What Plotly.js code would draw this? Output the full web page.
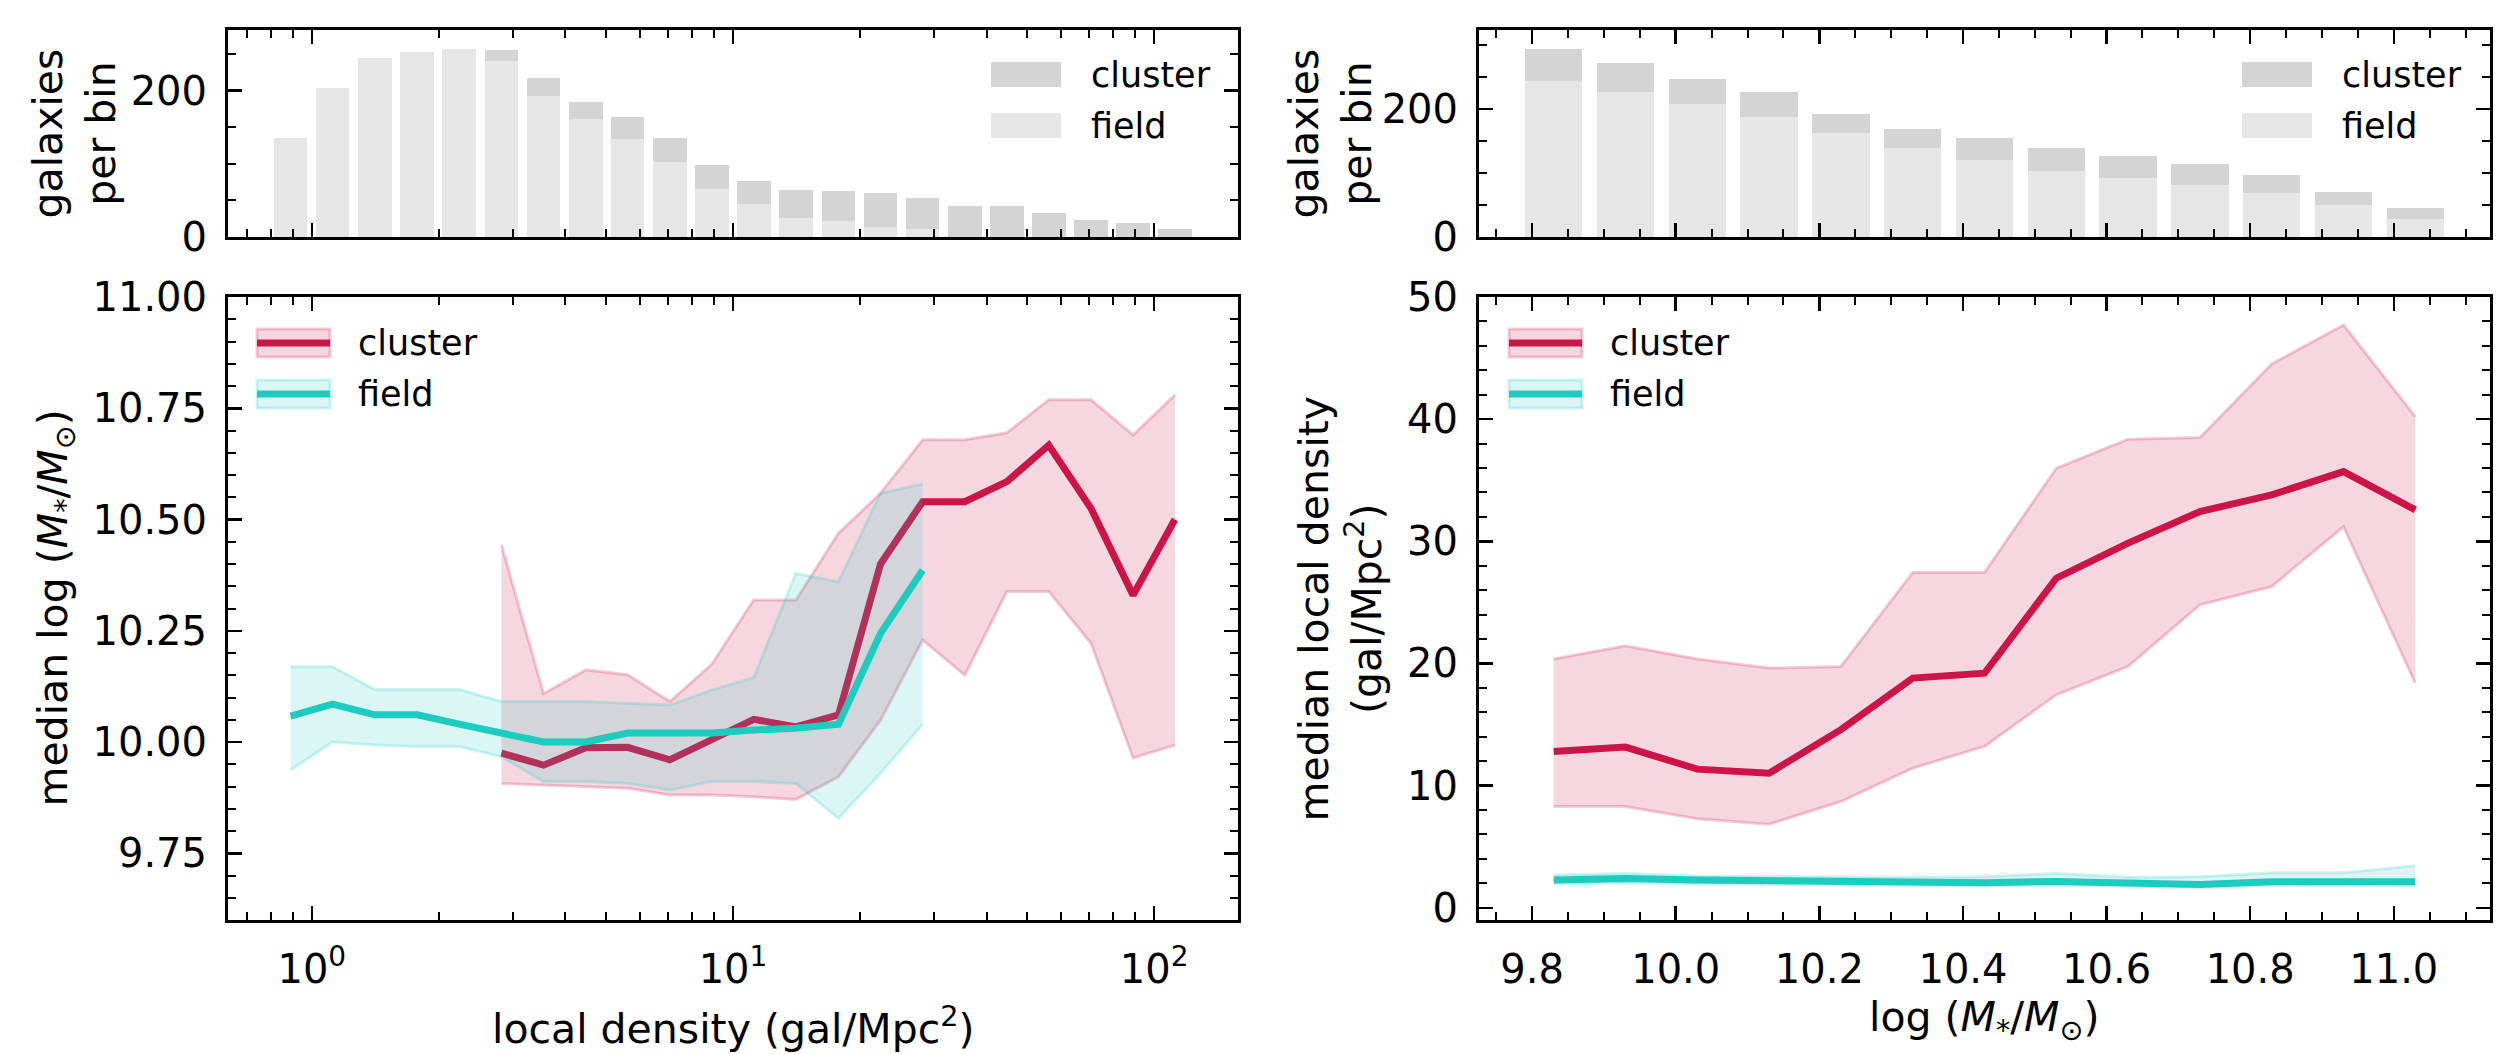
<!DOCTYPE html>
<html>
<head>
<meta charset="utf-8">
<script src="https://cdn.plot.ly/plotly-3.0.1.min.js"></script>
<style>
  html, body { margin: 0; padding: 0; background: #fff; }
  #chart { width: 2520px; height: 1054px; }
</style>
</head>
<body>
<div id="chart"></div>
<script>
// ---- local density bins (gal/Mpc^2) ----
const densityBins = [0.89, 1.12, 1.41, 1.78, 2.24, 2.82, 3.55, 4.47, 5.62, 7.08, 8.91,
                     11.2, 14.1, 17.8, 22.4, 28.2, 35.5, 44.7, 56.2, 70.8, 89.1, 112];
const densityFieldCounts   = [136, 204, 245, 253, 257, 240, 193, 161, 134, 102, 65, 45, 26, 22, 13, 11, 0, 0, 0, 0, 0, 0];
const densityClusterCounts = [0, 0, 0, 0, 0, 16, 24, 24, 30, 33, 34, 32, 38, 41, 47, 43, 42, 42, 33, 23, 19, 11];

// ---- stellar mass bins, log(M*/Msun) ----
const massBins = [9.83, 9.93, 10.03, 10.13, 10.23, 10.33, 10.43, 10.53, 10.63, 10.73, 10.83, 10.93, 11.03];
const massFieldCounts   = [244, 227, 207, 187, 162, 139, 120, 103, 92, 81, 69, 50, 28];
const massClusterCounts = [49, 45, 40, 39, 30, 30, 34, 36, 35, 33, 27, 21, 17];

// ---- median stellar mass vs local density ----
const fieldDensityX   = [0.89, 1.12, 1.41, 1.78, 2.24, 2.82, 3.55, 4.47, 5.62, 7.08, 8.91, 11.2, 14.1, 17.8, 22.4, 28.2];
const fieldMassMed    = [10.058, 10.085, 10.061, 10.061, 10.04, 10.02, 10.00, 10.00, 10.02, 10.02, 10.02, 10.027, 10.031, 10.04, 10.244, 10.386];
const fieldMassHi     = [10.169, 10.169, 10.118, 10.118, 10.118, 10.091, 10.091, 10.091, 10.087, 10.083, 10.117, 10.145, 10.379, 10.36, 10.559, 10.58];
const fieldMassLo     = [9.937, 10.0, 9.993, 9.99, 9.99, 9.967, 9.911, 9.911, 9.907, 9.892, 9.911, 9.911, 9.907, 9.829, 9.93, 10.04];

const clusterDensityX = [2.82, 3.55, 4.47, 5.62, 7.08, 8.91, 11.2, 14.1, 17.8, 22.4, 28.2, 35.5, 44.7, 56.2, 70.8, 89.1, 112];
const clusterMassMed  = [9.975, 9.948, 9.987, 9.988, 9.96, 10.004, 10.051, 10.034, 10.061, 10.40, 10.54, 10.54, 10.585, 10.667, 10.525, 10.33, 10.50];
const clusterMassHi   = [10.443, 10.109, 10.162, 10.151, 10.091, 10.175, 10.319, 10.319, 10.469, 10.559, 10.679, 10.679, 10.695, 10.769, 10.769, 10.69, 10.78];
const clusterMassLo   = [9.907, 9.903, 9.9, 9.896, 9.881, 9.881, 9.877, 9.871, 9.922, 10.049, 10.229, 10.15, 10.338, 10.338, 10.222, 9.964, 9.993];

// ---- median local density vs stellar mass ----
const clusterDensMed = [12.8, 13.16, 11.35, 11.02, 14.58, 18.8, 19.2, 26.98, 29.85, 32.44, 33.8, 35.71, 32.57];
const clusterDensHi  = [20.36, 21.45, 20.36, 19.62, 19.76, 27.45, 27.45, 35.98, 38.36, 38.49, 44.52, 47.71, 40.21];
const clusterDensLo  = [8.29, 8.29, 7.28, 6.84, 8.7, 11.43, 13.21, 17.44, 19.76, 24.8, 26.3, 31.2, 18.4];
const fieldDensMed   = [2.27, 2.4, 2.27, 2.18, 2.18, 2.05, 2.05, 2.16, 2.0, 1.91, 2.13, 2.13, 2.13];
const fieldDensHi    = [2.68, 2.81, 2.6, 2.55, 2.55, 2.5, 2.55, 2.81, 2.5, 2.55, 2.86, 2.86, 3.44];
const fieldDensLo    = [1.95, 2.05, 1.95, 1.9, 1.9, 1.8, 1.8, 1.85, 1.75, 1.7, 1.85, 1.85, 1.8];

// ---- tick labels ----
const densityTickVals  = [1, 10, 100];
const densityTickText  = ['10<sup>0</sup>', '10<sup>1</sup>', '10<sup>2</sup>'];
const densityMinorVals = [0.7, 0.8, 0.9, 2, 3, 4, 5, 6, 7, 8, 9, 20, 30, 40, 50, 60, 70, 80, 90];

// ---- styling ----
const W = 2520, H = 1054;
const RED = '#cc1449', CYAN = '#1ecbbf';
const RED_FILL = 'rgba(204,20,73,0.17)', RED_EDGE = 'rgba(204,20,73,0.22)';
const CYAN_FILL = 'rgba(30,203,191,0.16)', CYAN_EDGE = 'rgba(30,203,191,0.22)';
const GREY_DARK = '#d4d4d4', GREY_LIGHT = '#e6e6e6';
const FONT = 'DejaVu Sans';

const px = x => x / W;
const py = y => 1 - y / H;

// panel frames in pixels
const leftX = [228, 1238], rightX = [1479, 2490];
const histY = [30, 237], mainY = [297, 920];
const domX = a => [px(a[0]), px(a[1])];
const domY = a => [py(a[1]), py(a[0])];

const log10 = v => Math.log10(v);
const histLogX = densityBins.map(log10);

const traces = [
  // density histogram (stacked)
  {type: 'bar', x: histLogX, y: densityFieldCounts, width: 0.08, marker: {color: GREY_LIGHT, line: {width: 0}},
   xaxis: 'x', yaxis: 'y', name: 'field', showlegend: false, hoverinfo: 'skip'},
  {type: 'bar', x: histLogX, y: densityClusterCounts, width: 0.08, marker: {color: GREY_DARK, line: {width: 0}},
   xaxis: 'x', yaxis: 'y', name: 'cluster', showlegend: false, hoverinfo: 'skip'},
  // mass histogram (stacked)
  {type: 'bar', x: massBins, y: massFieldCounts, width: 0.08, marker: {color: GREY_LIGHT, line: {width: 0}},
   xaxis: 'x3', yaxis: 'y3', name: 'field', showlegend: false, hoverinfo: 'skip'},
  {type: 'bar', x: massBins, y: massClusterCounts, width: 0.08, marker: {color: GREY_DARK, line: {width: 0}},
   xaxis: 'x3', yaxis: 'y3', name: 'cluster', showlegend: false, hoverinfo: 'skip'},
];

function bandTraces(x, lo, hi, med, xa, ya, edge, fill, color, name) {
  return [
    {type: 'scatter', mode: 'lines', x: x, y: lo, xaxis: xa, yaxis: ya, line: {color: edge, width: 3},
     showlegend: false, hoverinfo: 'skip'},
    {type: 'scatter', mode: 'lines', x: x, y: hi, xaxis: xa, yaxis: ya, line: {color: edge, width: 3},
     fill: 'tonexty', fillcolor: fill, showlegend: false, hoverinfo: 'skip'},
    {type: 'scatter', mode: 'lines', x: x, y: med, xaxis: xa, yaxis: ya, line: {color: color, width: 7},
     name: name, showlegend: false}
  ];
}

traces.push(...bandTraces(clusterDensityX, clusterMassLo, clusterMassHi, clusterMassMed, 'x2', 'y2', RED_EDGE, RED_FILL, RED, 'cluster'));
traces.push(...bandTraces(fieldDensityX, fieldMassLo, fieldMassHi, fieldMassMed, 'x2', 'y2', CYAN_EDGE, CYAN_FILL, CYAN, 'field'));
traces.push(...bandTraces(massBins, clusterDensLo, clusterDensHi, clusterDensMed, 'x4', 'y4', RED_EDGE, RED_FILL, RED, 'cluster'));
traces.push(...bandTraces(massBins, fieldDensLo, fieldDensHi, fieldDensMed, 'x4', 'y4', CYAN_EDGE, CYAN_FILL, CYAN, 'field'));

const tickFont = {family: FONT, size: 40, color: '#000'};
const baseAxis = {
  showline: true, linewidth: 3, linecolor: '#000', mirror: 'allticks',
  ticks: 'inside', ticklen: 14, tickwidth: 2.5, tickcolor: '#000',
  showgrid: false, zeroline: false, tickfont: tickFont, fixedrange: true
};
const minorStyle = {ticks: 'inside', ticklen: 8, tickwidth: 2, tickcolor: '#000', showgrid: false};

const layout = {
  width: W, height: H,
  margin: {l: 0, r: 0, t: 0, b: 0, pad: 0},
  paper_bgcolor: '#fff', plot_bgcolor: '#fff',
  font: {family: FONT, size: 40, color: '#000'},
  barmode: 'stack', bargap: 0,
  showlegend: false,
  xaxis: Object.assign({}, baseAxis, {
    domain: domX(leftX), anchor: 'y', type: 'linear', range: [-0.199, 2.199],
    tickmode: 'array', tickvals: densityTickVals.map(log10), showticklabels: false,
    minor: Object.assign({}, minorStyle, {tickmode: 'array', tickvals: densityMinorVals.map(log10)})
  }),
  yaxis: Object.assign({}, baseAxis, {
    domain: domY(histY), anchor: 'x', range: [0, 283], tick0: 0, dtick: 200,
    ticklabelstandoff: 10, minor: Object.assign({}, minorStyle, {dtick: 50})
  }),
  xaxis2: Object.assign({}, baseAxis, {
    domain: domX(leftX), anchor: 'y2', type: 'log', range: [-0.199, 2.199],
    tickmode: 'array', tickvals: densityTickVals, ticktext: densityTickText, ticklabelstandoff: 12,
    minor: Object.assign({}, minorStyle, {tickmode: 'array', tickvals: densityMinorVals})
  }),
  yaxis2: Object.assign({}, baseAxis, {
    domain: domY(mainY), anchor: 'x2', range: [9.6, 11.0], tick0: 9.75, dtick: 0.25, tickformat: '.2f',
    ticklabelstandoff: 10, minor: Object.assign({}, minorStyle, {tick0: 9.6, dtick: 0.05})
  }),
  xaxis3: Object.assign({}, baseAxis, {
    domain: domX(rightX), anchor: 'y3', range: [9.726, 11.134], tick0: 9.8, dtick: 0.2,
    showticklabels: false, minor: Object.assign({}, minorStyle, {tick0: 9.75, dtick: 0.05})
  }),
  yaxis3: Object.assign({}, baseAxis, {
    domain: domY(histY), anchor: 'x3', range: [0, 323], tick0: 0, dtick: 200,
    ticklabelstandoff: 10, minor: Object.assign({}, minorStyle, {dtick: 50})
  }),
  xaxis4: Object.assign({}, baseAxis, {
    domain: domX(rightX), anchor: 'y4', range: [9.726, 11.134], tick0: 9.8, dtick: 0.2, tickformat: '.1f',
    ticklabelstandoff: 12, minor: Object.assign({}, minorStyle, {tick0: 9.75, dtick: 0.05})
  }),
  yaxis4: Object.assign({}, baseAxis, {
    domain: domY(mainY), anchor: 'x4', range: [-1, 50], tick0: 0, dtick: 10,
    ticklabelstandoff: 10, minor: Object.assign({}, minorStyle, {tick0: 0, dtick: 2})
  }),
  annotations: [],
  shapes: []
};

// axis titles
const titleFont = {family: FONT, size: 41, color: '#000'};
function vTitle(text, xc, yc) {
  layout.annotations.push({xref: 'paper', yref: 'paper', x: px(xc), y: py(yc), text: text,
    textangle: -90, showarrow: false, xanchor: 'center', yanchor: 'middle', font: titleFont, align: 'center'});
}
function hTitle(text, xc, yc) {
  layout.annotations.push({xref: 'paper', yref: 'paper', x: px(xc), y: py(yc), text: text,
    showarrow: false, xanchor: 'center', yanchor: 'middle', font: titleFont});
}
const massLabel = '(<i>M</i><sub>*</sub>/<i>M</i><sub>⊙</sub>)';
vTitle('galaxies<br>per bin', 74, (histY[0] + histY[1]) / 2);
vTitle('median log ' + massLabel, 55, (mainY[0] + mainY[1]) / 2);
vTitle('galaxies<br>per bin', 1330, (histY[0] + histY[1]) / 2);
vTitle('median local density<br>(gal/Mpc<sup>2</sup>)', 1340, (mainY[0] + mainY[1]) / 2);
hTitle('local density (gal/Mpc<sup>2</sup>)', (leftX[0] + leftX[1]) / 2, 1026);
hTitle('log ' + massLabel, (rightX[0] + rightX[1]) / 2, 1020);

// legends
const legFont = {family: FONT, size: 35, color: '#000'};
function legText(text, x, yc) {
  layout.annotations.push({xref: 'paper', yref: 'paper', x: px(x), y: py(yc), text: text,
    showarrow: false, xanchor: 'left', yanchor: 'middle', font: legFont});
}
function rect(x0, x1, y0, y1, fill, edge) {
  layout.shapes.push({type: 'rect', xref: 'paper', yref: 'paper', x0: px(x0), x1: px(x1), y0: py(y1), y1: py(y0),
    fillcolor: fill, line: edge ? {color: edge, width: 3} : {width: 0}, layer: 'above'});
}
function hline(x0, x1, y, color) {
  layout.shapes.push({type: 'line', xref: 'paper', yref: 'paper', x0: px(x0), x1: px(x1), y0: py(y), y1: py(y),
    line: {color: color, width: 7}, layer: 'above'});
}
function lineLegend(x0) {
  rect(x0, x0 + 73, 329, 357, RED_FILL, RED_EDGE);
  hline(x0, x0 + 73, 343, RED);
  legText('cluster', x0 + 99, 343);
  rect(x0, x0 + 73, 380, 408, CYAN_FILL, CYAN_EDGE);
  hline(x0, x0 + 73, 394, CYAN);
  legText('field', x0 + 99, 394);
}
function barLegend(x0) {
  rect(x0, x0 + 70, 62, 87, GREY_DARK, null);
  legText('cluster', x0 + 98, 75);
  rect(x0, x0 + 70, 113, 138, GREY_LIGHT, null);
  legText('field', x0 + 98, 126);
}
lineLegend(257);
lineLegend(1509);
barLegend(991);
barLegend(2242);

Plotly.newPlot('chart', traces, layout, {displayModeBar: false, staticPlot: true});
</script>
</body>
</html>
